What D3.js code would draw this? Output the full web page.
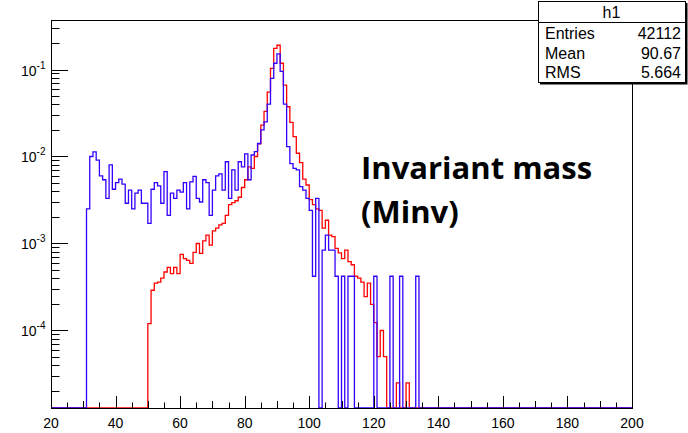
<!DOCTYPE html>
<html>
<head>
<meta charset="utf-8">
<script src="https://cdn.jsdelivr.net/npm/d3@7"></script>
<style>
  body { margin: 0; background: #fff; }
  svg { display: block; font-family: "Liberation Sans", Arial, sans-serif; }
</style>
</head>
<body>
<svg id="chart" width="688" height="433"></svg>
<script>
// histogram binning (1 GeV bins)
const xRange = [20, 200];
const binWidth = 1;

// red histogram, first filled bin at 50
const redStart = 50;
const redValues = [
  1.2e-4, 2.9e-4, 3.5e-4, 3.6e-4, 4.0e-4, 4.7e-4, 5.3e-4, 4.5e-4, 5.3e-4, 4.5e-4,
  7.5e-4, 6.7e-4, 6.4e-4, 5.9e-4, 7.9e-4, 1.0e-3, 7.7e-4, 1.07e-3, 1.25e-3, 9.6e-4,
  1.4e-3, 1.5e-3, 1.64e-3, 1.7e-3, 2.1e-3, 2.8e-3, 2.95e-3, 3.1e-3, 3.4e-3, 4.4e-3,
  5.4e-3, 7.6e-3, 7.3e-3, 1.0e-2, 1.4e-2, 2.3e-2, 3.3e-2, 5.5e-2, 0.103, 0.175,
  0.19, 0.118, 0.066, 0.0373, 0.0247, 0.0169, 0.0109, 0.0085, 0.0055, 0.0047,
  0.0032, 0.0028, 0.0025, 0.0024, 0.0015, 0.00185, 0.00125, 0.0012, 0.00088, 0.00078,
  0.00067, 0.00084, 0.00062, 0.00057, 0.00042, 0.0004, 0.00036, 0.000245, 0.00035, 0.0002,
  0.000123, 0.00005, 0.0001, 0.00005, 0, 0, 0, 0.000025, 0, 0,
  0.000025
];

// blue histogram, first filled bin at 31
const blueStart = 31;
const blueValues = [
  0.0025, 0.0100, 0.0113, 0.0091, 0.0060, 0.0054, 0.0033, 0.0080, 0.0042,
  0.0050, 0.0055, 0.0048, 0.0029, 0.0041, 0.0025, 0.0038, 0.0041, 0.0029, 0.0029,
  0.0017, 0.0042, 0.0050, 0.0046, 0.0029, 0.0067, 0.0021, 0.0038, 0.0033, 0.0041,
  0.0039, 0.0050, 0.0025, 0.0051, 0.0059, 0.0033, 0.0030, 0.0054, 0.0050, 0.0021,
  0.0041, 0.0060, 0.0063, 0.0041, 0.0087, 0.0033, 0.0070, 0.0041, 0.0087, 0.0076,
  0.0107, 0.0054, 0.0104, 0.0114, 0.0141, 0.0202, 0.0250, 0.040, 0.079, 0.118,
  0.151, 0.095, 0.040, 0.013, 0.0083, 0.0073, 0.0070, 0.0045, 0.0041, 0.0033,
  0.0024, 0.00042, 0.0033, 0, 0.00084, 0.00125, 0.00084, 0.00084, 0.00042, 0,
  0.00042, 0, 0.00042, 0.00042, 0, 0, 0, 0, 0, 0,
  0.00042, 0, 0, 0, 0, 0.00042, 0, 0, 0.00042, 0,
  0, 0, 0, 0.00042
];

const xTickValues = [20, 40, 60, 80, 100, 120, 140, 160, 180, 200];
const yDecadeExponents = [-4, -3, -2, -1];

const statsTitle = "h1";
const statsLabels = ["Entries", "Mean", "RMS"];
const statsValues = ["42112", "90.67", "5.664"];

const annotationLines = ["Invariant mass", "(Minv)"];

const svg = d3.select("#chart");
const frame = { left: 51, right: 632, top: 20, bottom: 408 };

const x = d3.scaleLinear().domain(xRange).range([frame.left, frame.right]);
const y = d3
  .scaleLog()
  .domain([1.285e-5, 0.3707])
  .range([frame.bottom, frame.top])
  .clamp(true);

svg.append("rect").attr("width", 688).attr("height", 433).attr("fill", "#fff");

function histPath(start, values) {
  const pts = [];
  for (let b = xRange[0]; b < xRange[1]; b += binWidth) {
    const i = Math.round((b - start) / binWidth);
    const v = i >= 0 && i < values.length ? values[i] : 0;
    const yy = v > 0 ? y(v) : frame.bottom;
    pts.push([x(b), yy], [x(b + binWidth), yy]);
  }
  return d3.line()(pts);
}

const plot = svg.append("g");

plot
  .append("path")
  .attr("d", histPath(redStart, redValues))
  .attr("fill", "none")
  .attr("stroke", "#ff0000")
  .attr("stroke-width", 1.3);

plot
  .append("path")
  .attr("d", histPath(blueStart, blueValues))
  .attr("fill", "none")
  .attr("stroke", "#3300ff")
  .attr("stroke-width", 1.3);

// frame
svg
  .append("rect")
  .attr("x", frame.left + 0.5)
  .attr("y", frame.top + 0.5)
  .attr("width", frame.right - frame.left)
  .attr("height", frame.bottom - frame.top)
  .attr("fill", "none")
  .attr("stroke", "#000")
  .attr("stroke-width", 1);

// x ticks (drawn inside frame, ROOT style)
const xAxis = svg.append("g").attr("stroke", "#000").attr("stroke-width", 1);
for (let v = xRange[0]; v <= xRange[1]; v += 5) {
  const len = v % 20 == 0 ? 12 : v % 10 == 0 ? 7 : 5.5;
  const px = Math.round(x(v)) + 0.5;
  xAxis
    .append("line")
    .attr("x1", px)
    .attr("x2", px)
    .attr("y1", frame.bottom)
    .attr("y2", frame.bottom - len);
}

svg
  .append("g")
  .selectAll("text")
  .data(xTickValues)
  .join("text")
  .attr("x", (d) => x(d))
  .attr("y", 428)
  .attr("text-anchor", "middle")
  .attr("font-size", 14)
  .text((d) => d);

// y ticks
const yAxis = svg.append("g").attr("stroke", "#000").attr("stroke-width", 1);
const [yMin, yMax] = y.domain();
for (let e = -5; e <= 0; e++) {
  for (let k = 1; k <= 9; k++) {
    const v = k * Math.pow(10, e);
    if (v < yMin || v > yMax) continue;
    const py = Math.round(y(v)) + 0.5;
    yAxis
      .append("line")
      .attr("x1", frame.left)
      .attr("x2", frame.left + (k == 1 ? 17 : 8.5))
      .attr("y1", py)
      .attr("y2", py);
  }
}

const yLabels = svg
  .append("g")
  .selectAll("text")
  .data(yDecadeExponents)
  .join("text")
  .attr("x", 21)
  .attr("y", (d) => y(Math.pow(10, d)) + 6)
  .attr("font-size", 14);
yLabels.append("tspan").text("10");
yLabels
  .append("tspan")
  .attr("dy", -7)
  .attr("font-size", 10)
  .text((d) => d);

// stats box
const box = { x: 538, y: 1, w: 147, h: 81, row: 21 };
svg
  .append("rect")
  .attr("x", box.x + 2)
  .attr("y", box.y + 2)
  .attr("width", box.w + 0.5)
  .attr("height", box.h + 0.5)
  .attr("fill", "#000");
svg
  .append("rect")
  .attr("x", box.x + 0.5)
  .attr("y", box.y + 0.5)
  .attr("width", box.w)
  .attr("height", box.h)
  .attr("fill", "#fff")
  .attr("stroke", "#000");
svg
  .append("line")
  .attr("x1", box.x)
  .attr("x2", box.x + box.w)
  .attr("y1", box.y + box.row + 0.5)
  .attr("y2", box.y + box.row + 0.5)
  .attr("stroke", "#000");
svg
  .append("text")
  .attr("x", box.x + box.w / 2)
  .attr("y", box.y + 17)
  .attr("text-anchor", "middle")
  .attr("font-size", 16)
  .text(statsTitle);
statsLabels.forEach(function (label, i) {
  const by = box.y + box.row + 17 + i * 19.5;
  svg
    .append("text")
    .attr("x", box.x + 7)
    .attr("y", by)
    .attr("font-size", 16)
    .text(label);
  svg
    .append("text")
    .attr("x", box.x + box.w - 4)
    .attr("y", by)
    .attr("text-anchor", "end")
    .attr("font-size", 16)
    .text(statsValues[i]);
});

// annotation
svg
  .append("g")
  .selectAll("text")
  .data(annotationLines)
  .join("text")
  .attr("x", 361)
  .attr("y", (d, i) => 179 + i * 44)
  .attr("font-family", "'Open Sans', sans-serif")
  .attr("font-weight", "bold")
  .attr("font-size", 31)
  .attr("fill", "#000")
  .text((d) => d);
</script>
</body>
</html>
